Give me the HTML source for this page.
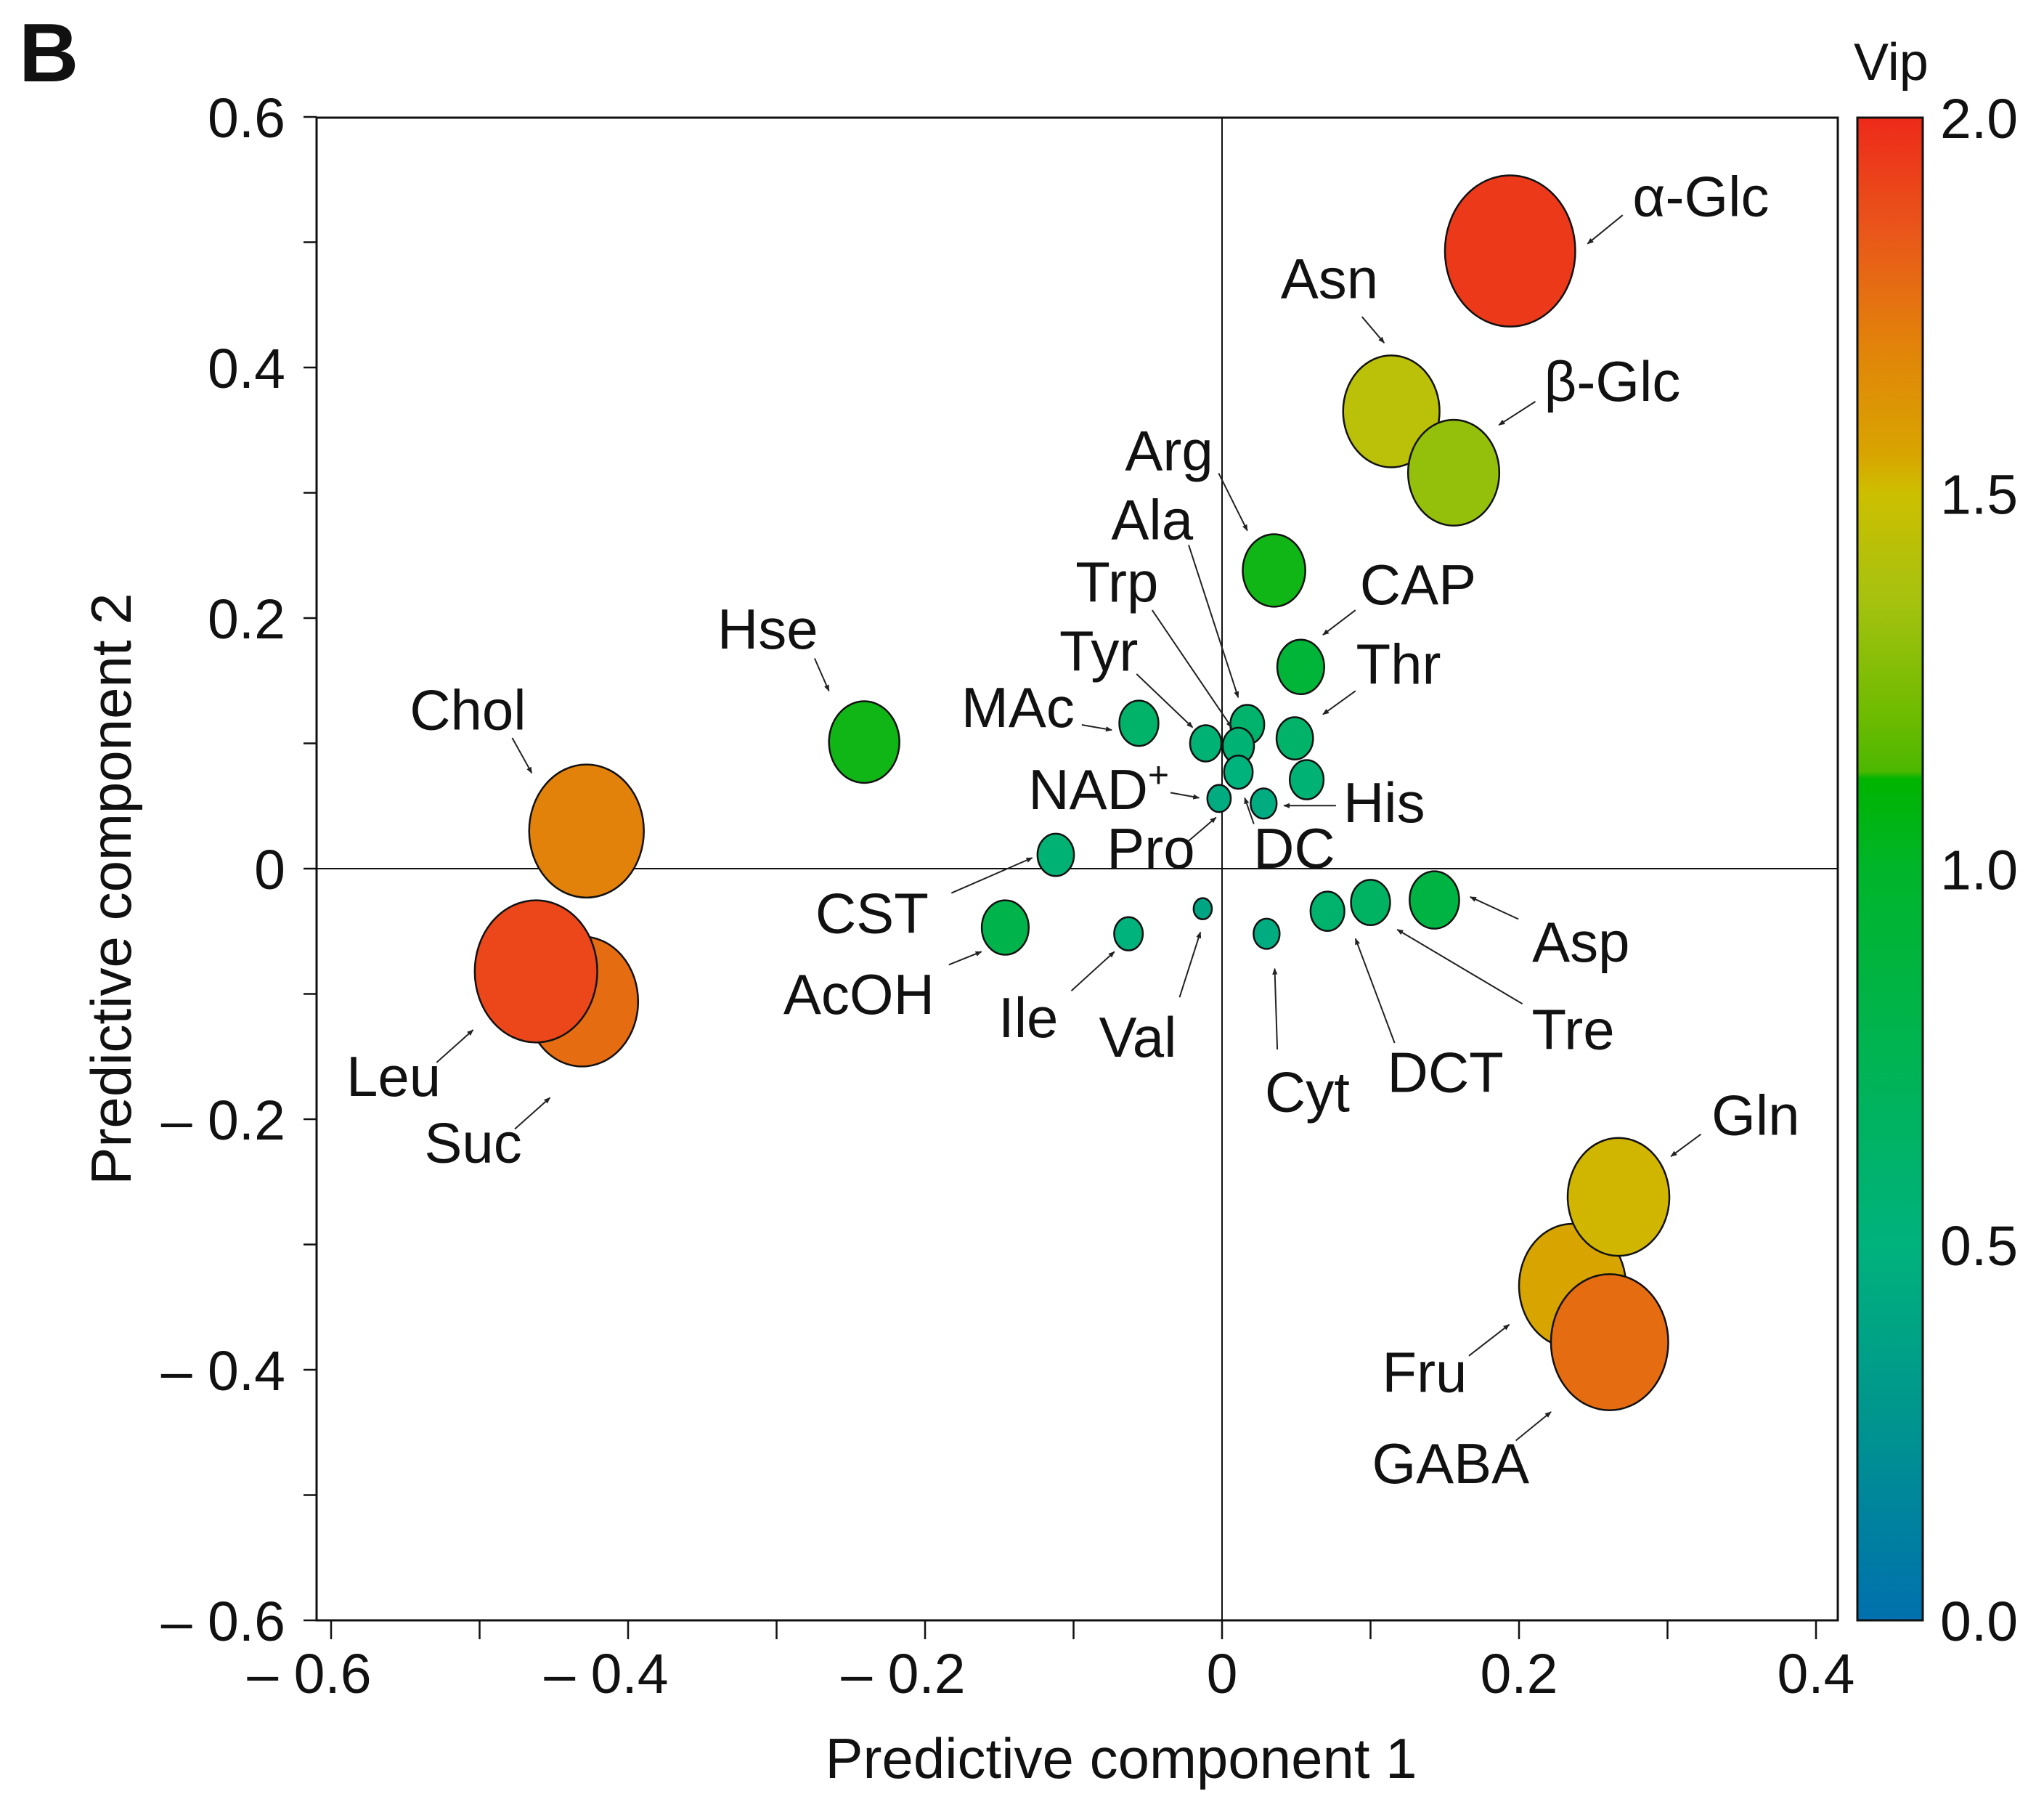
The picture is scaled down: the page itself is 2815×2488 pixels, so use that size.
<!DOCTYPE html>
<html><head><meta charset="utf-8"><style>
html,body{margin:0;padding:0;background:#fff;}
svg{display:block;font-family:"Liberation Sans",Arial,sans-serif;}
</style></head><body>
<svg id="chart" width="2815" height="2488" viewBox="0 0 2815 2488" xmlns="http://www.w3.org/2000/svg">
<defs>
<linearGradient id="cbar" x1="0" y1="0" x2="0" y2="1">
<stop offset="0" stop-color="#ee2a1a"/><stop offset="0.075" stop-color="#e9561a"/>
<stop offset="0.15" stop-color="#e2820a"/><stop offset="0.225" stop-color="#d8a500"/>
<stop offset="0.25" stop-color="#cdbf00"/><stop offset="0.32" stop-color="#a6c20f"/>
<stop offset="0.40" stop-color="#6cbb00"/><stop offset="0.435" stop-color="#4cb800"/>
<stop offset="0.44" stop-color="#00b400"/><stop offset="0.5" stop-color="#00b52a"/>
<stop offset="0.75" stop-color="#00b27c"/><stop offset="0.87" stop-color="#00948f"/>
<stop offset="1" stop-color="#0070ae"/>
</linearGradient>
<marker id="ah" viewBox="0 0 10 10" refX="9" refY="5" markerWidth="9" markerHeight="9" orient="auto" markerUnits="userSpaceOnUse"><path d="M0,1 L10,5 L0,9 z" fill="#222"/></marker>
</defs>
<text x="26" y="112" font-size="114" font-weight="bold" fill="#111">B</text>
<g id="axes"></g>
<g id="bubbles"></g>
<g id="labels"></g>
<g id="cb"></g>
</svg>
<script>
const names=["α-Glc","Asn","β-Glc","Arg","CAP","Hse","Chol","Suc","Leu","MAc","Tyr","Trp","Ala","Pro","Thr","His","NAD+","DC","CST","AcOH","Ile","Val","Cyt","DCT","Tre","Asp","Fru","Gln","GABA"];
const xVals=[0.194,0.114,0.156,0.035,0.053,-0.241,-0.428,-0.431,-0.462,-0.056,-0.011,0.017,0.011,0.011,0.049,0.057,-0.002,0.028,-0.112,-0.146,-0.063,-0.013,0.030,0.071,0.100,0.143,0.236,0.267,0.261];
const yVals=[0.493,0.365,0.316,0.238,0.161,0.101,0.030,-0.106,-0.082,0.116,0.100,0.115,0.098,0.077,0.104,0.071,0.056,0.052,0.011,-0.047,-0.052,-0.032,-0.052,-0.034,-0.027,-0.025,-0.333,-0.262,-0.378];
const sizes=[50,37,35,24,18,27,44,43,47,15,12,13,12,11,14,13,9,10,14,18,11,7,10,13,15,19,41,39,45];
const vips=[1.95,1.45,1.35,1.05,0.92,1.05,1.75,1.8,1.9,0.62,0.55,0.6,0.55,0.5,0.62,0.55,0.45,0.45,0.55,0.8,0.5,0.4,0.45,0.6,0.65,0.85,1.65,1.55,1.8];
const xTicks=[-0.6,-0.4,-0.2,0,0.2,0.4];
const xTickLabels=["– 0.6","– 0.4","– 0.2","0","0.2","0.4"];
const yTicks=[0.6,0.4,0.2,0,-0.2,-0.4,-0.6];
const yTickLabels=["0.6","0.4","0.2","0","– 0.2","– 0.4","– 0.6"];
const cbTicks=[2.0,1.5,1.0,0.5,0.0];
const cbTickLabels=["2.0","1.5","1.0","0.5","0.0"];
const S=1.795;
const labelPos=[[1305,150,1245,165,1218,187],[1020,213,1045,243,1062,263],[1237,292,1178,308,1150,326],[897,345,935,363,957,407],[1088,448,1040,468,1015,487],[589,482,625,505,636,530],[359,544,393,566,408,593],[363,876,395,866,422,842],[302,825,335,815,363,790],[781,542,830,556,853,560],[843,499,872,517,915,558],[857,446,884,468,945,558],[884,398,912,418,950,535],[883,650,912,645,933,627],[1073,509,1040,530,1015,548],[1062,615,1025,618,985,618],[843,605,898,608,920,612],[993,650,962,632,955,612],[669,700,730,685,792,658],[659,762,728,740,753,730],[789,780,822,760,855,730],[873,795,905,765,921,715],[1003,837,980,805,978,743],[1109,822,1070,800,1040,720],[1207,789,1168,770,1072,713],[1213,722,1165,705,1128,688],[1093,1052,1127,1040,1158,1016],[1347,855,1305,870,1282,887],[1113,1122,1163,1105,1190,1083]];
const L=436,R=2531,T=162,B=2231;
function X(v){return 1683+v*2045;}
function Y(v){return 1196-v*1725;}
function CB(v){return B-(v/2)*(B-T);}
const NS="http://www.w3.org/2000/svg";
function mk(tag,attrs,parent){const e=document.createElementNS(NS,tag);for(const k in attrs)e.setAttribute(k,attrs[k]);parent.appendChild(e);return e;}
const stops=[[0,[0,112,174]],[0.25,[0,146,143]],[0.5,[0,178,124]],[1.0,[0,181,42]],[1.1,[30,182,0]],[1.2,[92,184,0]],[1.4,[166,194,15]],[1.5,[205,191,0]],[1.65,[216,165,0]],[1.75,[226,130,10]],[1.85,[233,86,26]],[2.0,[238,42,26]]];
function color(v){for(let i=1;i<stops.length;i++){if(v<=stops[i][0]){const a=stops[i-1],b=stops[i];const t=(v-a[0])/(b[0]-a[0]);const c=a[1].map((x,j)=>Math.round(x+(b[1][j]-x)*t));return `rgb(${c})`;}}return "rgb(238,42,26)";}
const ax=document.getElementById('axes');
const frame=mk('rect',{x:L,y:T,width:R-L,height:B-T,fill:'none',stroke:'#111',"stroke-width":3},ax);

const zx=mk('line',{x1:L,x2:R,y1:Y(0),y2:Y(0),stroke:'#111',"stroke-width":2},ax);

const zy=mk('line',{x1:X(0),x2:X(0),y1:T,y2:B,stroke:'#111',"stroke-width":2},ax);

for(let v=-0.6;v<=0.41;v+=0.1){const t=mk('line',{x1:X(v),x2:X(v),y1:B,y2:B+26,stroke:'#111',"stroke-width":2.5},ax);}
for(let v=-0.6;v<=0.61;v+=0.1){const t=mk('line',{x1:L-18,x2:L,y1:Y(v),y2:Y(v),stroke:'#111',"stroke-width":2.5},ax);}
xTicks.forEach((v,i)=>{const t=mk('text',{x:X(v)-(i<3?30:0),y:2331,"font-size":77,"text-anchor":"middle",fill:'#111'},ax);t.textContent=xTickLabels[i];});
yTicks.forEach((v,i)=>{const t=mk('text',{x:393,y:Y(v)+28,"font-size":77,"text-anchor":"end",fill:'#111'},ax);t.textContent=yTickLabels[i];});
const xt=mk('text',{x:1544,y:2448,"font-size":78,"text-anchor":"middle",fill:'#111'},ax);xt.textContent="Predictive component 1";

const yt=mk('text',{x:0,y:0,"font-size":78,"text-anchor":"middle",fill:'#111',transform:'translate(180,1224) rotate(-90)'},ax);yt.textContent="Predictive component 2";

const bg=document.getElementById('bubbles');
names.forEach((n,i)=>{const rx=sizes[i]*S;const e=mk('ellipse',{cx:X(xVals[i]),cy:Y(yVals[i]),rx:rx,ry:rx*1.16,fill:color(vips[i]),stroke:'#111',"stroke-width":2.5},bg);

});
const lg=document.getElementById('labels');
names.forEach((n,i)=>{const p=labelPos[i];const t=mk('text',{x:p[0]*S,y:p[1]*S+28,"font-size":78,"text-anchor":"middle",fill:'#111'},lg);
if(n==="NAD+"){t.textContent="NAD";const s=mk('tspan',{"font-size":50,dy:-30},t);s.textContent="+";}else t.textContent=n;


const a=mk('line',{x1:p[2]*S,y1:p[3]*S,x2:p[4]*S,y2:p[5]*S,stroke:'#222',"stroke-width":2,"marker-end":"url(#ah)"},lg);

});
const cb=document.getElementById('cb');
const bar=mk('rect',{x:2558,y:CB(2),width:90,height:CB(0)-CB(2),fill:'url(#cbar)',stroke:'#111',"stroke-width":3},cb);

cbTicks.forEach((v,i)=>{const t=mk('text',{x:2672,y:CB(v)+28,"font-size":77,fill:'#111'},cb);t.textContent=cbTickLabels[i];});
const vt=mk('text',{x:2553,y:110,"font-size":72,fill:'#111'},cb);vt.textContent="Vip";

</script>
</body></html>
